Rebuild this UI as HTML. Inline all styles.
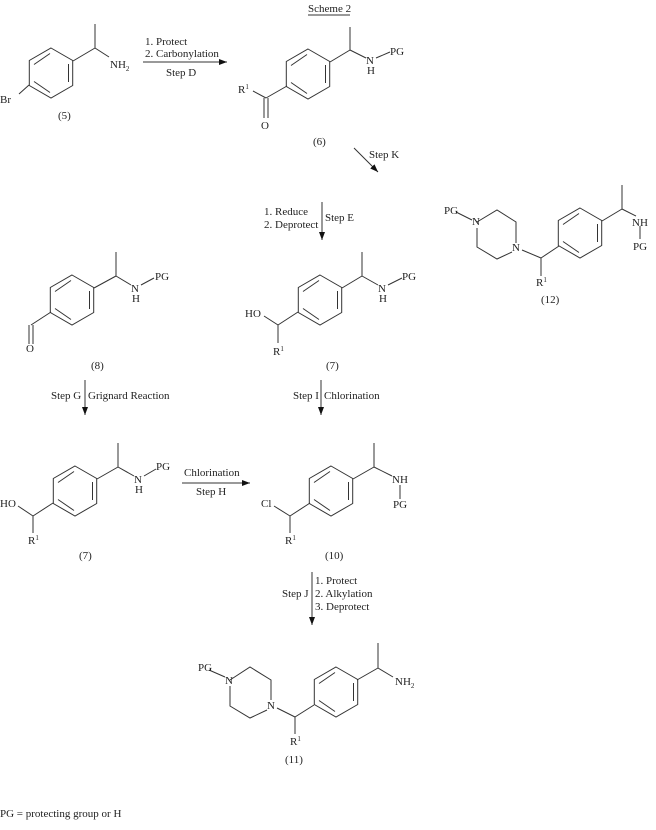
<!DOCTYPE html>
<html><head><meta charset="utf-8"><style>
html,body{margin:0;padding:0;background:#fff;}
svg{display:block;}
text{font-family:"Liberation Serif",serif;font-size:11px;fill:#222;}
.s{font-size:7px;}
</style></head><body>
<svg width="656" height="830" viewBox="0 0 656 830" xmlns="http://www.w3.org/2000/svg">
<defs>
<g id="ring" stroke="#333" stroke-width="1" fill="none">
<polygon points="0,-25 21.7,-12.5 21.7,12.5 0,25 -21.7,12.5 -21.7,-12.5"/>
<line x1="-17" y1="-8.5" x2="-1" y2="-19.5"/>
<line x1="17.5" y1="-9" x2="17.5" y2="9"/>
<line x1="-17" y1="8.5" x2="-1" y2="19.5"/>
</g>
<marker id="ah" markerWidth="8" markerHeight="6" refX="8" refY="3" orient="auto" markerUnits="userSpaceOnUse"><path d="M0,0 L8,3 L0,6 z" fill="#111"/></marker>
</defs>
<g stroke="#333" stroke-width="1" fill="none">
<!-- arrows -->
<line x1="143" y1="62" x2="227" y2="62" marker-end="url(#ah)"/>
<line x1="354" y1="148" x2="378" y2="172" marker-end="url(#ah)"/>
<line x1="322" y1="202" x2="322" y2="240" marker-end="url(#ah)"/>
<line x1="85" y1="380" x2="85" y2="415" marker-end="url(#ah)"/>
<line x1="321" y1="380" x2="321" y2="415" marker-end="url(#ah)"/>
<line x1="182" y1="483" x2="250" y2="483" marker-end="url(#ah)"/>
<line x1="312" y1="572" x2="312" y2="625" marker-end="url(#ah)"/>
<line x1="308" y1="15" x2="350" y2="15"/>
<!-- 5 -->
<line x1="29" y1="85" x2="19" y2="94"/>
<line x1="73" y1="61" x2="95" y2="48"/><line x1="95" y1="48" x2="95" y2="24"/><line x1="95" y1="48" x2="109" y2="57"/>
<!-- 6 -->
<line x1="287" y1="86" x2="266" y2="98"/><line x1="266" y1="98" x2="253" y2="91"/>
<line x1="264" y1="98" x2="264" y2="118"/><line x1="268" y1="98" x2="268" y2="118"/>
<line x1="330" y1="62" x2="350" y2="50"/><line x1="350" y1="50" x2="350" y2="27"/><line x1="350" y1="50" x2="366" y2="58"/><line x1="376" y1="58" x2="390" y2="52"/>
<!-- 12 -->
<polyline points="477,222 497,210 516,222 516,243"/><polyline points="512,252 497,259 477,247 477,228"/>
<line x1="456" y1="212" x2="472" y2="220"/>
<line x1="522" y1="250" x2="541" y2="258"/><line x1="541" y1="258" x2="541" y2="276"/><line x1="541" y1="258" x2="559" y2="246"/>
<line x1="602" y1="221" x2="622" y2="209"/><line x1="622" y1="209" x2="622" y2="185"/><line x1="622" y1="209" x2="636" y2="216"/><line x1="640" y1="226" x2="640" y2="239"/>
<!-- 7 upper -->
<line x1="298" y1="312" x2="278" y2="325"/><line x1="278" y1="325" x2="264" y2="316"/><line x1="278" y1="325" x2="278" y2="343"/>
<line x1="342" y1="288" x2="362" y2="276"/><line x1="362" y1="276" x2="362" y2="252"/><line x1="362" y1="276" x2="378" y2="285"/><line x1="388" y1="285" x2="402" y2="278"/>
<!-- 8 -->
<line x1="51" y1="312" x2="31" y2="325"/><line x1="29" y1="325" x2="29" y2="344"/><line x1="33" y1="325" x2="33" y2="344"/>
<line x1="94" y1="288" x2="116" y2="276"/><line x1="116" y1="276" x2="116" y2="252"/><line x1="116" y1="276" x2="131" y2="285"/><line x1="141" y1="285" x2="154" y2="278"/>
<!-- 7 lower -->
<line x1="53" y1="503" x2="33" y2="516"/><line x1="33" y1="516" x2="18" y2="506"/><line x1="33" y1="516" x2="33" y2="533"/>
<line x1="97" y1="479" x2="118" y2="467"/><line x1="118" y1="467" x2="118" y2="443"/><line x1="118" y1="467" x2="134" y2="476"/><line x1="144" y1="476" x2="156" y2="469"/>
<!-- 10 -->
<line x1="310" y1="503" x2="290" y2="516"/><line x1="290" y1="516" x2="274" y2="506"/><line x1="290" y1="516" x2="290" y2="533"/>
<line x1="353" y1="479" x2="374" y2="467"/><line x1="374" y1="467" x2="374" y2="443"/><line x1="374" y1="467" x2="392" y2="476"/><line x1="400" y1="485" x2="400" y2="499"/>
<!-- 11 -->
<polyline points="230,680 250,667 271,680 271,700"/><polyline points="267,710 250,718 230,706 230,686"/>
<line x1="209" y1="670" x2="225" y2="677"/>
<line x1="277" y1="708" x2="295" y2="717"/><line x1="295" y1="717" x2="295" y2="734"/><line x1="295" y1="717" x2="314" y2="705"/>
<line x1="357" y1="680" x2="378" y2="668"/><line x1="378" y1="668" x2="378" y2="643"/><line x1="378" y1="668" x2="393" y2="677"/>
</g>
<use href="#ring" x="51" y="73"/>
<use href="#ring" x="308" y="74"/>
<use href="#ring" x="580" y="233"/>
<use href="#ring" x="320" y="300"/>
<use href="#ring" x="72" y="300"/>
<use href="#ring" x="75" y="491"/>
<use href="#ring" x="331" y="491"/>
<use href="#ring" x="336" y="692"/>
<text x="308" y="12">Scheme 2</text>
<!-- 5 -->
<text x="0" y="103">Br</text>
<text x="110" y="68">NH<tspan class="s" dy="3">2</tspan></text>
<text x="58" y="119">(5)</text>
<text x="145" y="45">1. Protect</text><text x="145" y="57">2. Carbonylation</text><text x="166" y="76">Step D</text>
<!-- 6 -->
<text x="238" y="93">R<tspan class="s" dy="-4">1</tspan></text>
<text x="261" y="129">O</text>
<text x="366" y="64">N</text><text x="367" y="74">H</text><text x="390" y="55">PG</text>
<text x="313" y="145">(6)</text>
<text x="369" y="158">Step K</text>
<text x="264" y="215">1. Reduce</text><text x="264" y="228">2. Deprotect</text><text x="325" y="221">Step E</text>
<!-- 12 -->
<text x="444" y="214">PG</text><text x="472" y="225">N</text><text x="512" y="251">N</text>
<text x="536" y="286">R<tspan class="s" dy="-4">1</tspan></text>
<text x="632" y="226">NH</text><text x="633" y="250">PG</text>
<text x="541" y="303">(12)</text>
<!-- 7 upper -->
<text x="245" y="317">HO</text><text x="273" y="355">R<tspan class="s" dy="-4">1</tspan></text>
<text x="378" y="292">N</text><text x="379" y="302">H</text><text x="402" y="280">PG</text>
<text x="326" y="369">(7)</text>
<!-- 8 -->
<text x="26" y="352">O</text>
<text x="131" y="292">N</text><text x="132" y="302">H</text><text x="155" y="280">PG</text>
<text x="91" y="369">(8)</text>
<text x="51" y="399">Step G</text><text x="88" y="399">Grignard Reaction</text>
<text x="293" y="399">Step I</text><text x="324" y="399">Chlorination</text>
<!-- 7 lower -->
<text x="0" y="507">HO</text><text x="28" y="544">R<tspan class="s" dy="-4">1</tspan></text>
<text x="134" y="483">N</text><text x="135" y="493">H</text><text x="156" y="470">PG</text>
<text x="79" y="559">(7)</text>
<text x="184" y="476">Chlorination</text><text x="196" y="495">Step H</text>
<!-- 10 -->
<text x="261" y="507">Cl</text><text x="285" y="544">R<tspan class="s" dy="-4">1</tspan></text>
<text x="392" y="483">NH</text><text x="393" y="508">PG</text>
<text x="325" y="559">(10)</text>
<text x="315" y="584">1. Protect</text><text x="315" y="597">2. Alkylation</text><text x="315" y="610">3. Deprotect</text><text x="282" y="597">Step J</text>
<!-- 11 -->
<text x="198" y="671">PG</text><text x="225" y="684">N</text><text x="267" y="709">N</text>
<text x="290" y="745">R<tspan class="s" dy="-4">1</tspan></text>
<text x="395" y="685">NH<tspan class="s" dy="3">2</tspan></text>
<text x="285" y="763">(11)</text>
<text x="0" y="817">PG = protecting group or H</text>
</svg>
</body></html>
